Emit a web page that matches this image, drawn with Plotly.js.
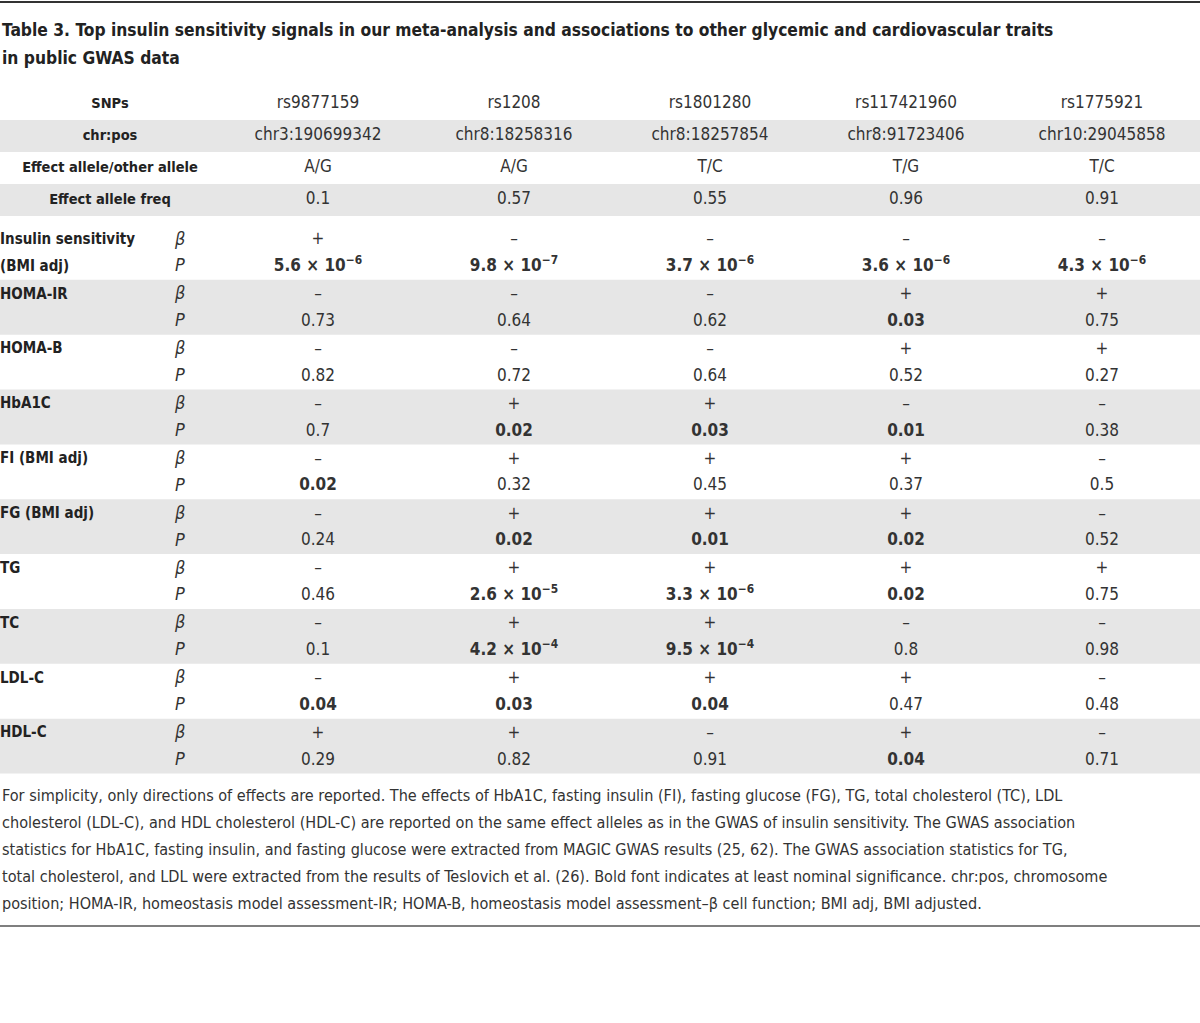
<!DOCTYPE html>
<html><head><meta charset="utf-8">
<script src="https://cdn.plot.ly/plotly-3.0.1.min.js"></script>
<style>html,body{margin:0;padding:0;background:#fff}#chart{width:1200px;height:1023px}</style>
</head><body><div id="chart"></div>
<script>
// ---------------- data ----------------
const titleLines = [
  "Table 3. Top insulin sensitivity signals in our meta-analysis and associations to other glycemic and cardiovascular traits",
  "in public GWAS data"
];
const headerLabels = ["SNPs", "chr:pos", "Effect allele/other allele", "Effect allele freq"];
const snps    = ["rs9877159", "rs1208", "rs1801280", "rs117421960", "rs1775921"];
const chrPos  = ["chr3:190699342", "chr8:18258316", "chr8:18257854", "chr8:91723406", "chr10:29045858"];
const alleles = ["A/G", "A/G", "T/C", "T/G", "T/C"];
const freqs   = ["0.1", "0.57", "0.55", "0.96", "0.91"];

const traits = [
  ["Insulin sensitivity", "(BMI adj)"], ["HOMA-IR"], ["HOMA-B"], ["HbA1C"], ["FI (BMI adj)"],
  ["FG (BMI adj)"], ["TG"], ["TC"], ["LDL-C"], ["HDL-C"]
];
const statLabels = ["β", "P"];
const betaSigns = [
  ["+", "–", "–", "–", "–"],
  ["–", "–", "–", "+", "+"],
  ["–", "–", "–", "+", "+"],
  ["–", "+", "+", "–", "–"],
  ["–", "+", "+", "+", "–"],
  ["–", "+", "+", "+", "–"],
  ["–", "+", "+", "+", "+"],
  ["–", "+", "+", "–", "–"],
  ["–", "+", "+", "+", "–"],
  ["+", "+", "–", "+", "–"]
];
const pValues = [
  ["5.6e-6", "9.8e-7", "3.7e-6", "3.6e-6", "4.3e-6"],
  ["0.73", "0.64", "0.62", "0.03", "0.75"],
  ["0.82", "0.72", "0.64", "0.52", "0.27"],
  ["0.7", "0.02", "0.03", "0.01", "0.38"],
  ["0.02", "0.32", "0.45", "0.37", "0.5"],
  ["0.24", "0.02", "0.01", "0.02", "0.52"],
  ["0.46", "2.6e-5", "3.3e-6", "0.02", "0.75"],
  ["0.1", "4.2e-4", "9.5e-4", "0.8", "0.98"],
  ["0.04", "0.03", "0.04", "0.47", "0.48"],
  ["0.29", "0.82", "0.91", "0.04", "0.71"]
];
const footnoteLines = [
  "For simplicity, only directions of effects are reported. The effects of HbA1C, fasting insulin (FI), fasting glucose (FG), TG, total cholesterol (TC), LDL",
  "cholesterol (LDL-C), and HDL cholesterol (HDL-C) are reported on the same effect alleles as in the GWAS of insulin sensitivity. The GWAS association",
  "statistics for HbA1C, fasting insulin, and fasting glucose were extracted from MAGIC GWAS results (25, 62). The GWAS association statistics for TG,",
  "total cholesterol, and LDL were extracted from the results of Teslovich et al. (26). Bold font indicates at least nominal significance. chr:pos, chromosome",
  "position; HOMA-IR, homeostasis model assessment-IR; HOMA-B, homeostasis model assessment–β cell function; BMI adj, BMI adjusted."
];

// ---------------- layout constants ----------------
const FONT = "'Liberation Sans Narrow', 'DejaVu Sans Condensed', 'Roboto Condensed', 'Arial Narrow', sans-serif";
const TXT = "#333333";
const BAND = "#e6e6e6";
const LABEL_CX = 110, STAT_X = 175, COL0 = 318, COL_DX = 196;
const HEAD_Y0 = 104, HEAD_DY = 32;
const GRP_Y0 = 240, GRP_DY = 54.85, P_DY = 26.8;
const SZ_DATA = 17, SZ_LABEL = 14.5, SZ_TRAIT = 15, SZ_TITLE = 17.3, SZ_NOTE = 16.1;

const colX = i => COL0 + COL_DX * i;
function fmtP(s) {
  const v = parseFloat(s);
  let t = s;
  if (s.indexOf("e") >= 0) {
    const [m, e] = s.split("e");
    t = m + " × 10<sup>−" + (-parseInt(e, 10)) + "</sup>";
  }
  return v < 0.05 ? "<b>" + t + "</b>" : t;
}

const traces = [];
const shapes = [];
const annotations = [];

// header rows
const headerRows = [snps, chrPos, alleles, freqs];
headerRows.forEach((row, r) => {
  const y = HEAD_Y0 + HEAD_DY * r;
  if (r % 2 === 1) {
    shapes.push({type: "rect", xref: "paper", yref: "y", x0: 0, x1: 1, y0: y - HEAD_DY / 2, y1: y + HEAD_DY / 2,
      fillcolor: BAND, line: {width: 0}, layer: "below"});
  }
  traces.push({
    type: "scatter", mode: "text", hoverinfo: "skip", showlegend: false,
    x: [LABEL_CX], y: [y], text: ["<b>" + headerLabels[r] + "</b>"],
    textposition: "middle center",
    textfont: {family: FONT, size: SZ_LABEL, color: "#222"}
  });
  traces.push({
    type: "scatter", mode: "text", hoverinfo: "skip", showlegend: false,
    x: row.map((_, i) => colX(i)), y: row.map(() => y), text: row,
    textposition: "middle center",
    textfont: {family: FONT, size: SZ_DATA, color: TXT}
  });
});

// trait groups
traits.forEach((lab, g) => {
  const yb = GRP_Y0 + GRP_DY * g;
  const yp = yb + P_DY;
  if (g % 2 === 1) {
    shapes.push({type: "rect", xref: "paper", yref: "y", x0: 0, x1: 1, y0: yb - 15, y1: yb + GRP_DY - 15,
      fillcolor: BAND, line: {width: 0}, layer: "below"});
  }
  traces.push({
    type: "scatter", mode: "text", hoverinfo: "skip", showlegend: false,
    x: lab.map(() => 0), y: lab.map((_, k) => k === 0 ? yb : yp),
    text: lab.map(s => "<b>" + s + "</b>"),
    textposition: "middle right",
    textfont: {family: FONT, size: SZ_TRAIT, color: "#222"}
  });
  traces.push({
    type: "scatter", mode: "text", hoverinfo: "skip", showlegend: false,
    x: [STAT_X, STAT_X], y: [yb, yp],
    text: statLabels.map(s => "<i>" + s + "</i>"),
    textposition: "middle right",
    textfont: {family: FONT, size: SZ_DATA + 1, color: TXT}
  });
  traces.push({
    type: "scatter", mode: "text", hoverinfo: "skip", showlegend: false,
    x: betaSigns[g].map((_, i) => colX(i)), y: betaSigns[g].map(() => yb),
    text: betaSigns[g], textposition: "middle center",
    textfont: {family: FONT, size: SZ_DATA, color: TXT}
  });
  traces.push({
    type: "scatter", mode: "text", hoverinfo: "skip", showlegend: false,
    x: pValues[g].map((_, i) => colX(i)), y: pValues[g].map(() => yp),
    text: pValues[g].map(fmtP), textposition: "middle center",
    textfont: {family: FONT, size: SZ_DATA, color: TXT}
  });
});

// rules
shapes.push({type: "line", xref: "paper", yref: "y", x0: 0, x1: 1, y0: 2, y1: 2, line: {color: "#333", width: 2}});
shapes.push({type: "line", xref: "paper", yref: "y", x0: 0, x1: 1, y0: 926, y1: 926, line: {color: "#555", width: 1.5}});

// title
titleLines.forEach((t, k) => {
  annotations.push({xref: "x", yref: "y", x: 0, y: 30 + 28 * k, xanchor: "left", yanchor: "middle",
    text: "<b>" + t + "</b>", showarrow: false, align: "left",
    font: {family: FONT, size: SZ_TITLE, color: "#222"}});
});
// footnote
footnoteLines.forEach((t, k) => {
  annotations.push({xref: "x", yref: "y", x: 0, y: 795 + 27 * k, xanchor: "left", yanchor: "middle",
    text: t, showarrow: false, align: "left",
    font: {family: FONT, size: SZ_NOTE, color: TXT}});
});

const layout = {
  width: 1200, height: 1023,
  margin: {l: 0, r: 0, t: 0, b: 0, pad: 0},
  paper_bgcolor: "#fff", plot_bgcolor: "#fff",
  xaxis: {range: [0, 1200], visible: false, fixedrange: true},
  yaxis: {range: [1023, 0], visible: false, fixedrange: true},
  shapes: shapes, annotations: annotations, showlegend: false
};
Plotly.newPlot("chart", traces, layout, {displayModeBar: false, staticPlot: true});
</script>
</body></html>
